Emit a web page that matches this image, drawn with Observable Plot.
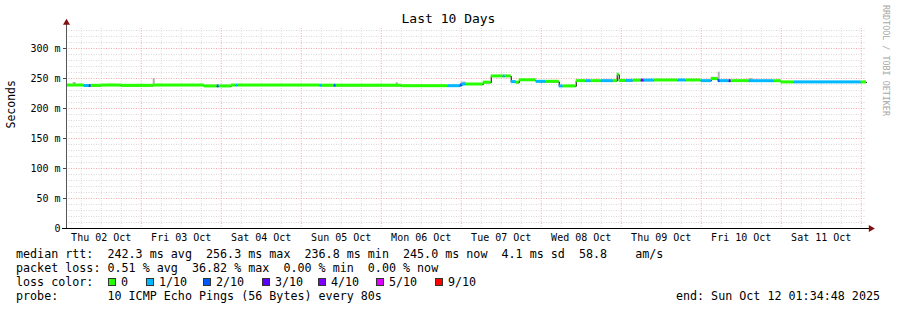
<!DOCTYPE html>
<html>
<head>
<meta charset="utf-8">
<script src="https://cdn.jsdelivr.net/npm/d3@7"></script>
<script src="https://cdn.jsdelivr.net/npm/@observablehq/plot@0.6"></script>
<style>
  html, body { margin: 0; padding: 0; background: #fff; }
  #wrap { position: relative; width: 897px; height: 310px; overflow: hidden; font-family: "DejaVu Sans Mono", monospace; color: #000; }
  #title { position: absolute; top: 11px; left: 0; width: 897px; text-align: center; font-size: 13px; line-height: 16px; }
  #chart { position: absolute; top: 0; left: 0; }
  #wm { position: absolute; left: 881px; top: 5px; writing-mode: vertical-rl; font-size: 8.4px; color: #a8a8a8; white-space: pre; }
  .ln { position: absolute; font-size: 11.7px; line-height: 14px; white-space: pre; }
  .sq { position: absolute; width: 6px; height: 6px; border: 1px solid #333; }
</style>
</head>
<body>
<div id="wrap">
  <div id="chart"></div>
  <div id="title"></div>
  <div id="wm"></div>
  <div id="legend"></div>
</div>
<script>
// ---- data ----
const titleText = "Last 10 Days";
const yLabel = "Seconds";
const watermark = "RRDTOOL / TOBI OETIKER";
const tStartStr = "10-02 01:35";
const tEndStr = "10-12 01:35";

const yTicks = [0, 50, 100, 150, 200, 250, 300];
const yTickLabels = ["0", "50 m", "100 m", "150 m", "200 m", "250 m", "300 m"];
const dayNoons = ["10-02 12:00","10-03 12:00","10-04 12:00","10-05 12:00","10-06 12:00","10-07 12:00","10-08 12:00","10-09 12:00","10-10 12:00","10-11 12:00"];
const dayLabels = ["Thu 02 Oct","Fri 03 Oct","Sat 04 Oct","Sun 05 Oct","Mon 06 Oct","Tue 07 Oct","Wed 08 Oct","Thu 09 Oct","Fri 10 Oct","Sat 11 Oct"];

// median rtt segments: start time, value (ms), loss class
const segTimes = ["10-02 01:35","10-02 06:54","10-02 08:24","10-02 09:00","10-02 12:00","10-02 18:00","10-03 03:36","10-03 18:54","10-03 22:48","10-03 23:24",
  "10-04 03:00","10-04 04:30","10-04 05:06","10-05 05:42","10-05 06:18","10-05 09:54","10-05 10:30","10-06 06:00","10-06 20:06","10-06 23:42",
  "10-07 00:18","10-07 01:30","10-07 06:36","10-07 09:00","10-07 12:36","10-07 13:12","10-07 15:00","10-07 16:30","10-07 17:24","10-07 22:30",
  "10-08 01:30","10-08 05:24","10-08 06:36","10-08 10:30","10-08 13:30","10-08 15:00","10-08 18:00","10-08 21:36","10-08 22:48","10-08 23:24",
  "10-09 01:30","10-09 03:36","10-09 06:00","10-09 06:54","10-09 09:54","10-09 17:06","10-09 19:30","10-10 00:00","10-10 03:00","10-10 05:06",
  "10-10 05:42","10-10 08:24","10-10 09:00","10-10 14:24","10-10 21:54","10-11 00:00","10-11 03:54","10-12 00:00"];
const segValues = [238.3,237.5,237.5,237.8,238.3,237.8,238.3,236.8,236.8,236.8,
  238.3,238.3,238.3,238.0,238.0,238.0,238.0,237.2,237.2,238.5,
  240.0,240.0,243.0,253.5,253.5,253.5,244.0,243.0,247.0,244.5,
  244.5,236.8,236.8,245.6,245.6,245.6,245.6,245.6,256.3,246.0,
  246.0,246.5,246.5,246.5,246.7,246.7,246.7,245.6,249.0,245.6,
  245.6,245.6,245.6,245.5,245.5,243.5,243.5,243.5];
const segLoss = [0,1,2,0,0,0,0,0,2,0,
  0,1,0,1,0,2,0,0,1,2,
  1,0,0,0,1,0,1,0,0,1,
  0,1,0,0,1,0,1,0,0,0,
  1,0,4,1,0,1,0,1,0,2,
  1,3,0,1,0,0,1,0];

// smoke (rtt spread) spots: start, end, low, high
const smokeStart = ["10-02 03:36","10-03 03:36","10-06 04:30","10-07 00:00","10-07 21:36","10-10 03:00","10-10 05:06","10-10 14:24"];
const smokeEnd   = ["10-02 04:30","10-03 04:12","10-06 05:06","10-07 01:30","10-07 22:12","10-10 05:06","10-10 05:42","10-10 15:36"];
const smokeLow   = [240.0, 240.0, 240.0, 241.0, 247.0, 249.0, 246.7, 247.0];
const smokeHigh  = [243.3, 250.0, 243.0, 244.0, 250.0, 252.0, 260.5, 250.0];

const lossLabels = ["0","1/10","2/10","3/10","4/10","5/10","9/10"];
const lossColors = ["#26ff00","#00b8ff","#0059ff","#5e00ff","#7e00ff","#dd00ff","#ff0000"];

const legendLines = [
  "median rtt:  242.3 ms avg  256.3 ms max  236.8 ms min  245.0 ms now  4.1 ms sd  58.8    am/s",
  "packet loss: 0.51 % avg  36.82 % max  0.00 % min  0.00 % now",
  "loss color:",
  "probe:       10 ICMP Echo Pings (56 Bytes) every 80s"
];
const endText = "end: Sun Oct 12 01:34:48 2025";

// ---- build ----
const T = s => new Date(`2025-${s.replace(" ", "T")}:00Z`);
const tStart = T(tStartStr), tEnd = T(tEndStr);
const HOUR = 3600e3;

const segs = segTimes.map((s, i) => ({
  t1: T(s),
  t2: i + 1 < segTimes.length ? T(segTimes[i + 1]) : tEnd,
  v: segValues[i],
  loss: segLoss[i]
}));
const linePts = segs.flatMap(d => [{t: d.t1, v: d.v}, {t: d.t2, v: d.v}]);
const smoke = smokeStart.map((s, i) => ({t1: T(s), t2: T(smokeEnd[i]), lo: smokeLow[i], hi: smokeHigh[i]}));

const minorY = d3.range(10, 331, 10).filter(v => v % 50 !== 0);
const majorY = [50, 100, 150, 200, 250, 300];
const midnights = d3.utcDay.range(new Date(Date.UTC(2025, 9, 3)), new Date(Date.UTC(2025, 9, 12, 0, 1)));
const sixHours = d3.utcHour.every(6).range(tStart, tEnd).filter(d => d.getUTCHours() !== 0);

const plot = Plot.plot({
  width: 897,
  height: 248,
  marginLeft: 66,
  marginRight: 31,
  marginTop: 28,
  marginBottom: 20,
  style: {fontFamily: "DejaVu Sans Mono, monospace", fontSize: "10px", color: "#000", background: "transparent"},
  x: {type: "utc", domain: [tStart, tEnd]},
  y: {domain: [0, 1000 / 3]},
  marks: [
    Plot.ruleY(minorY, {stroke: "#d8d8d8", strokeDasharray: "1,1.5", strokeWidth: 1}),
    Plot.ruleX(sixHours, {stroke: "#d8d8d8", strokeDasharray: "1,1.5", strokeWidth: 1}),
    Plot.ruleY(majorY, {stroke: "#f5a8a8", strokeDasharray: "1,1.5", strokeWidth: 1}),
    Plot.ruleX(midnights, {stroke: "#f5a8a8", strokeDasharray: "1,1.5", strokeWidth: 1}),
    Plot.rect(smoke, {x1: "t1", x2: "t2", y1: "lo", y2: "hi", fill: "#b4b4b4"}),
    Plot.line(linePts, {x: "t", y: "v", stroke: "#000", strokeWidth: 1}),
    Plot.rect(segs, {x1: "t1", x2: "t2", y1: d => d.v - 2.5, y2: d => d.v + 2.5, fill: d => lossColors[d.loss]}),
    Plot.axisY(yTicks, {tickFormat: (d, i) => yTickLabels[i], tickSize: 3, tickPadding: 3, label: null, stroke: "#444"}),
    Plot.axisX(dayNoons.map(T), {tickFormat: (d, i) => dayLabels[i], tickSize: 0, tickPadding: 5, label: null}),
    Plot.ruleX([tStart], {y1: 0, y2: 340, stroke: "#555"}),
    Plot.ruleY([0], {x1: new Date(+tStart - 1.2 * HOUR), x2: new Date(+tEnd + 1.2 * HOUR), stroke: "#000"}),
    Plot.dot([{t: tStart, v: 343}], {x: "t", y: "v", symbol: "triangle", r: 2.6, fill: "#7f1010", stroke: null}),
    Plot.dot([{t: new Date(+tEnd + 1.3 * HOUR), v: 0}], {x: "t", y: "v", symbol: "triangle", rotate: 90, r: 2.6, fill: "#7f1010", stroke: null}),
    Plot.text([yLabel], {frameAnchor: "left", dx: -55, rotate: -90, fontSize: 11.5, text: d => d})
  ]
});
document.getElementById("chart").appendChild(plot);
document.getElementById("title").textContent = titleText;
document.getElementById("wm").textContent = watermark;

const legend = document.getElementById("legend");
const lineTops = [247, 261, 275, 289];
legendLines.forEach((s, i) => {
  const el = document.createElement("div");
  el.className = "ln";
  el.style.left = "16px";
  el.style.top = lineTops[i] + "px";
  el.textContent = s;
  legend.appendChild(el);
});
const sqX = [108, 146, 203, 262, 318, 376, 435];
lossLabels.forEach((lab, i) => {
  const sq = document.createElement("div");
  sq.className = "sq";
  sq.style.left = sqX[i] + "px";
  sq.style.top = (lineTops[2] + 3) + "px";
  sq.style.background = lossColors[i];
  legend.appendChild(sq);
  const t = document.createElement("div");
  t.className = "ln";
  t.style.left = (sqX[i] + 13) + "px";
  t.style.top = lineTops[2] + "px";
  t.textContent = lab;
  legend.appendChild(t);
});
const endEl = document.createElement("div");
endEl.className = "ln";
endEl.style.right = "17px";
endEl.style.top = lineTops[3] + "px";
endEl.textContent = endText;
legend.appendChild(endEl);
</script>
</body>
</html>
